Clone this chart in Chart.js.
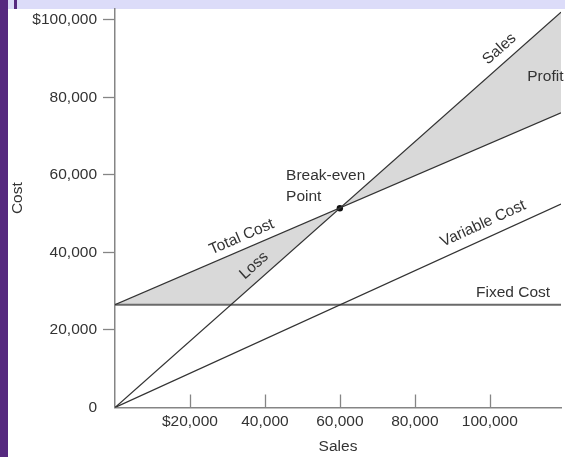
<!DOCTYPE html>
<html>
<head>
<meta charset="utf-8">
<script src="https://cdn.jsdelivr.net/npm/chart.js@4/dist/chart.umd.min.js"></script>
<style>
  html, body { margin: 0; padding: 0; background: #ffffff; }
  body { width: 565px; height: 457px; position: relative; overflow: hidden; }
  .band { position: absolute; left: 0; top: 0; width: 8px; height: 457px; background: #56297f; }
  .strip { position: absolute; left: 8px; top: 0; width: 557px; height: 9px; background: #dcdcf9; }
  .mark { position: absolute; left: 14px; top: 0; width: 3px; height: 9px; background: #56297f; }
  #chart { position: absolute; left: 0; top: 0; }
</style>
</head>
<body>
<div class="band"></div>
<div class="strip"></div>
<div class="mark"></div>
<canvas id="chart" width="565" height="457"></canvas>
<script>
// Break-even analysis: sales, costs and the break-even point
const xTicks = [20000, 40000, 60000, 80000, 100000];
const yTicks = [0, 20000, 40000, 60000, 80000, 100000];
const lineX = [0, 119000];
const salesY = [0, 102000];
const totalCostY = [26500, 76000];
const variableCostY = [0, 52500];
const fixedCostY = [26500, 26500];
const lossX = [0, 31000, 60000];
const lossY = [26500, 26500, 51400];
const breakEven = [60000, 51400];

const FONT = "'Liberation Sans', Arial, Helvetica, sans-serif";
const SIZE = 15.5;
const INK = '#333333';
const AXIS = '#858585';
const SHADE = '#d9d9d9';

const pts = (xs, ys) => xs.map((x, i) => ({ x: x, y: ys[i] }));

const datasets = [
  { label: 'Total Cost', data: pts(lineX, totalCostY), borderColor: INK, borderWidth: 1.25, pointRadius: 0, fill: false },
  { label: 'Sales', data: pts(lineX, salesY), borderColor: INK, borderWidth: 1.25, pointRadius: 0,
    fill: { target: 0, above: SHADE, below: 'rgba(0,0,0,0)' } },
  { label: 'Loss', data: pts(lossX, lossY), borderWidth: 0, borderColor: 'rgba(0,0,0,0)', pointRadius: 0,
    fill: { target: 0, above: 'rgba(0,0,0,0)', below: SHADE } },
  { label: 'Variable Cost', data: pts(lineX, variableCostY), borderColor: INK, borderWidth: 1.25, pointRadius: 0, fill: false },
  { label: 'Fixed Cost', data: pts(lineX, fixedCostY), borderColor: '#6a6a6a', borderWidth: 1.8, pointRadius: 0, fill: false },
  { label: 'Break-even Point', data: [{ x: breakEven[0], y: breakEven[1] }], showLine: false,
    pointRadius: 3.2, pointBackgroundColor: '#111', pointBorderWidth: 0, fill: false }
];

// Text placed along the lines, anchored in data units
const notes = [
  { text: 'Sales', x: 102600, y: 92500, along: salesY },
  { text: 'Profit', x: 110000, y: 85300, align: 'left' },
  { text: 'Break-even', x: 45650, y: 59900, align: 'left' },
  { text: 'Point', x: 45650, y: 54300, align: 'left' },
  { text: 'Total Cost', x: 33800, y: 44000, along: totalCostY },
  { text: 'Loss', x: 37100, y: 36600, along: salesY },
  { text: 'Variable Cost', x: 98200, y: 47400, along: variableCostY },
  { text: 'Fixed Cost', x: 106200, y: 29600 }
];

const decor = {
  id: 'decor',
  afterDatasetsDraw(chart) {
    const { ctx, scales: { x, y } } = chart;
    ctx.save();
    // tick marks on the sales axis point up into the plot
    ctx.strokeStyle = AXIS;
    ctx.lineWidth = 1.3;
    xTicks.forEach(v => {
      const px = Math.round(x.getPixelForValue(v)) + 0.5;
      ctx.beginPath();
      ctx.moveTo(px, y.bottom);
      ctx.lineTo(px, y.bottom - 13);
      ctx.stroke();
    });
    ctx.fillStyle = INK;
    ctx.font = SIZE + 'px ' + FONT;
    ctx.textBaseline = 'middle';
    notes.forEach(n => {
      const px = x.getPixelForValue(n.x);
      const py = y.getPixelForValue(n.y);
      ctx.save();
      ctx.translate(px, py);
      if (n.along) {
        const a = Math.atan2(y.getPixelForValue(n.along[1]) - y.getPixelForValue(n.along[0]),
                             x.getPixelForValue(lineX[1]) - x.getPixelForValue(lineX[0]));
        ctx.rotate(a);
      }
      ctx.textAlign = n.align || 'center';
      ctx.fillText(n.text, 0, 0);
      ctx.restore();
    });
    // vertical axis title
    ctx.save();
    ctx.translate(17.5, y.getPixelForValue(54000));
    ctx.rotate(-Math.PI / 2);
    ctx.textAlign = 'center';
    ctx.fillText('Cost', 0, 0);
    ctx.restore();
    ctx.restore();
  }
};

new Chart(document.getElementById('chart'), {
  type: 'line',
  data: { datasets: datasets },
  plugins: [decor],
  options: {
    responsive: false,
    animation: false,
    layout: { padding: { top: 9, right: 0, left: 0, bottom: 0 } },
    plugins: {
      legend: { display: false },
      tooltip: { enabled: false },
      filler: { propagate: false, drawTime: 'beforeDatasetsDraw' }
    },
    scales: {
      x: {
        type: 'linear',
        min: 0,
        max: 119000,
        afterBuildTicks: s => { s.ticks = xTicks.map(v => ({ value: v })); },
        afterFit: s => { s.height = 49.5; s.paddingLeft = 0; s.paddingRight = 0; },
        grid: { display: false, drawTicks: false, drawOnChartArea: false },
        border: { color: AXIS, width: 1.5 },
        ticks: {
          padding: 5,
          color: INK,
          font: { family: FONT, size: SIZE },
          maxRotation: 0,
          autoSkip: false,
          callback: v => (v === xTicks[0] ? '$' : '') + v.toLocaleString('en-US')
        },
        title: { display: true, text: 'Sales', color: INK, font: { family: FONT, size: SIZE }, padding: { top: 0, bottom: 1 } }
      },
      y: {
        min: 0,
        max: 102800,
        afterBuildTicks: s => { s.ticks = yTicks.map(v => ({ value: v })); },
        afterFit: s => { s.width = 115; s.paddingTop = 0; s.paddingBottom = 0; },
        grid: {
          drawOnChartArea: false,
          drawTicks: true,
          tickLength: 12,
          tickWidth: 1.3,
          tickColor: c => (c.tick && c.tick.value === 0) ? 'rgba(0,0,0,0)' : AXIS
        },
        border: { color: AXIS, width: 1.5 },
        ticks: {
          padding: 6,
          color: INK,
          font: { family: FONT, size: SIZE },
          autoSkip: false,
          callback: v => (v === yTicks[yTicks.length - 1] ? '$' : '') + v.toLocaleString('en-US')
        },
        title: { display: false }
      }
    }
  }
});
</script>
</body>
</html>
